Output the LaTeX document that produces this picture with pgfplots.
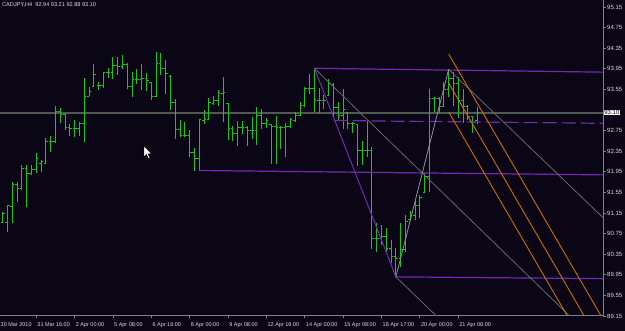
\documentclass[border=0pt]{standalone}
\usepackage{pgfplots}
\pgfplotsset{compat=1.18}
\usepackage{pgfplotstable}
\usepackage{fontspec}
\setmainfont{Liberation Sans}
\definecolor{bg}{RGB}{10,6,22}
\definecolor{barcol}{RGB}{20,200,20}
\definecolor{purp}{RGB}{115,40,175}
\definecolor{orng}{RGB}{205,110,0}
\definecolor{lgray}{RGB}{105,105,105}
\definecolor{zig}{RGB}{145,145,145}
\definecolor{bidc}{RGB}{80,90,80}
\definecolor{axc}{RGB}{128,128,128}
\definecolor{txt}{RGB}{220,220,220}

\pgfplotstableread{
n O H L C
1 90.96 91.16 90.95 91.14
2 90.96 91.31 90.79 91.29
3 91.27 91.75 90.96 91.71
4 91.71 91.76 91.37 91.63
5 91.63 92.08 91.60 92.02
6 92.02 92.08 91.26 91.92
7 91.92 92.08 91.88 91.99
8 91.99 92.31 91.92 92.21
9 92.12 92.17 91.94 92.15
10 92.11 92.60 92.10 92.54
11 92.54 92.65 92.34 92.54
12 92.54 93.22 92.50 93.12
13 93.12 93.18 92.89 93.07
14 93.07 93.07 92.76 92.81
15 92.81 92.87 92.65 92.79
16 92.79 92.96 92.63 92.79
17 92.79 92.92 92.65 92.89
18 92.89 93.78 92.52 93.42
19 93.42 93.60 93.42 93.51
20 93.60 94.04 93.59 93.83
21 93.62 93.70 93.54 93.62
22 93.62 93.89 93.57 93.88
23 93.88 93.96 93.77 93.88
24 93.88 94.17 93.75 94.02
25 94.02 94.17 93.83 93.99
26 93.99 94.21 93.95 94.04
27 94.04 94.07 93.55 93.60
28 93.60 93.88 93.40 93.75
29 93.75 93.94 93.66 93.75
30 93.75 94.04 93.53 93.77
31 93.77 93.86 93.51 93.73
32 93.68 93.70 93.34 93.41
33 93.41 94.27 93.40 94.06
34 94.06 94.25 93.82 93.95
35 93.95 94.12 93.46 93.85
36 93.80 93.82 93.15 93.30
37 93.30 93.36 92.59 92.78
38 92.78 92.96 92.62 92.66
39 92.66 92.92 92.63 92.65
40 92.65 92.76 92.24 92.33
41 92.33 92.41 91.97 92.21
42 92.21 92.98 91.97 92.96
43 92.95 93.15 92.88 92.96
44 92.96 93.38 92.95 93.30
45 93.28 93.43 93.25 93.33
46 93.33 93.54 93.23 93.47
47 93.47 93.80 92.91 93.49
48 93.27 93.28 92.57 92.80
49 92.80 92.83 92.54 92.70
50 92.70 92.94 92.46 92.81
51 92.81 92.94 92.68 92.81
52 92.81 92.84 92.46 92.76
53 92.76 93.02 92.58 92.76
54 92.76 93.20 92.48 93.05
55 93.05 93.16 92.79 92.88
56 92.88 92.99 92.81 92.94
57 92.87 92.88 92.10 92.83
58 92.83 93.03 92.10 92.81
59 92.81 92.84 92.39 92.81
60 92.81 92.90 92.24 92.83
61 92.83 92.99 92.81 92.96
62 92.95 93.12 92.92 93.05
63 93.05 93.31 93.04 93.23
64 93.23 93.59 93.20 93.56
65 93.56 93.84 93.46 93.57
66 93.57 93.96 93.12 93.33
67 93.33 93.58 93.09 93.34
68 93.34 93.44 93.17 93.34
69 93.43 93.75 93.43 93.66
70 93.65 93.67 93.02 93.20
71 93.20 93.30 92.94 93.05
72 93.05 93.56 92.78 93.15
73 93.10 93.12 92.78 92.88
74 92.88 92.91 92.70 92.88
75 92.87 92.88 92.07 92.37
76 92.37 92.55 92.08 92.37
77 92.37 92.94 92.24 92.37
78 92.37 92.44 90.45 90.66
79 90.66 90.95 90.40 90.66
80 90.66 90.92 90.53 90.70
81 90.70 90.85 90.40 90.47
82 90.47 90.63 90.17 90.30
83 90.30 90.47 89.91 90.27
84 90.27 90.95 90.11 90.45
85 90.45 91.11 90.40 90.98
86 91.02 91.18 91.00 91.10
87 91.10 91.40 91.02 91.30
88 91.30 91.50 91.05 91.45
89 91.55 91.92 91.53 91.85
90 91.85 93.55 91.55 93.38
91 93.38 93.41 93.12 93.38
92 93.38 93.41 93.09 93.22
93 93.22 93.70 93.22 93.55
94 93.55 93.94 93.41 93.77
95 93.77 93.88 93.22 93.67
96 93.67 93.80 93.00 93.34
97 93.34 93.55 92.90 93.22
98 93.22 93.25 92.96 93.02
99 93.02 93.02 92.71 92.91
100 92.94 93.21 92.88 93.10
}\bars

\begin{document}
\begin{tikzpicture}
\useasboundingbox (0,-15bp) rectangle (625bp,316bp);
\fill[bg] (0,-15bp) rectangle (625bp,316bp);
\begin{axis}[
  at={(0,0)}, anchor=south west,
  width=603bp, height=316bp, scale only axis,
  xmin=0.437, xmax=126.19, ymin=89.15, ymax=95.286,
  axis x line=bottom, axis y line=right,
  axis line style={-, axc, line width=1bp},
  xtick={8,16,...,96},
  xticklabels={31 Mar 16:00, 2 Apr 00:00, 5 Apr 08:00, 6 Apr 16:00, 8 Apr 00:00, 9 Apr 08:00, 12 Apr 16:00, 14 Apr 00:00, 15 Apr 08:00, 18 Apr 17:00, 20 Apr 00:00, 21 Apr 08:00},
  ytick={89.15,89.55,89.95,90.35,90.75,91.15,91.55,91.95,92.35,92.75,93.55,93.95,94.35,94.75,95.15},
  yticklabels={89.15,89.55,89.95,90.35,90.75,91.15,91.55,91.95,92.35,92.75,93.55,93.95,94.35,94.75,95.15},
  tick align=outside, major tick length=2.5bp,
  tick style={axc, line width=0.8bp},
  ticklabel style={text=txt, inner sep=0pt},
  xticklabel style={font=\fontsize{5.5bp}{6bp}\selectfont, anchor=north west, xshift=1bp, yshift=-4bp},
  yticklabel style={font=\fontsize{6bp}{7bp}\selectfont, anchor=west, xshift=1.5bp},
  clip=true,
  every axis plot/.append style={line cap=butt},
]
% bid line
\addplot[bidc, line width=2bp] coordinates {(0.437,93.10) (126.19,93.10)};
% bars: high-low
\addplot[draw=none, mark=none, error bars/.cd, y dir=plus, y explicit, error mark=none,
  error bar style={draw=barcol, solid, line width=1bp}]
  table[x=n, y=L, y error expr=\thisrow{H}-\thisrow{L}] {\bars};
% open ticks
\addplot[draw=none, mark=none, error bars/.cd, x dir=minus, x fixed=0.42, error mark=none,
  error bar style={draw=barcol, solid, line width=1bp}]
  table[x=n, y=O] {\bars};
% close ticks
\addplot[draw=none, mark=none, error bars/.cd, x dir=plus, x fixed=0.42, error mark=none,
  error bar style={draw=barcol, solid, line width=1bp}]
  table[x=n, y=C] {\bars};
% purple levels
\addplot[purp, line width=1.2bp] coordinates {(66,93.96) (126.19,93.885)};
\addplot[purp, line width=1.2bp] coordinates {(42,91.975) (126.19,91.89)};
\addplot[purp, line width=1.2bp] coordinates {(83,89.91) (126.19,89.875)};
\addplot[purp, line width=1.2bp, dash pattern=on 14bp off 5bp] coordinates {(70,92.946) (126.19,92.892)};
\addplot[purp, line width=1bp] coordinates {(66,93.96) (83,89.91)};
% gray parallel lines
\addplot[lgray, line width=0.8bp] coordinates {(66,93.96) (122,88.90)};
\addplot[lgray, line width=0.8bp] coordinates {(94,93.94) (126.19,91.06)};
\addplot[lgray, line width=0.8bp] coordinates {(83,89.91) (93,89.01)};
\addplot[zig, line width=0.8bp] coordinates {(83,89.91) (94,93.94)};
% orange lines
\addplot[orng, line width=0.9bp] coordinates {(94,94.237) (128,88.797)};
\addplot[orng, line width=0.9bp] coordinates {(94,93.674) (128,88.234)};
\addplot[orng, line width=0.9bp] coordinates {(94,93.111) (128,87.671)};
\coordinate (bidpt) at (axis cs:126.19,93.10);
\coordinate (firstlab) at (axis cs:0,89.15);
\end{axis}
% price box
\node[fill=white, text=black, anchor=west, inner sep=0.7bp, font=\fontsize{6bp}{7bp}\selectfont] at ([xshift=0.5bp]bidpt) {93.10};
% first date label
\node[anchor=north west, inner sep=0pt, text=txt, font=\fontsize{5.5bp}{6bp}\selectfont] at ([xshift=2.6bp, yshift=-6.5bp]firstlab) {30 Mar 2010};
% title
\node[anchor=west, inner sep=0pt, text=txt, font=\fontsize{5.6bp}{6.5bp}\selectfont] at (2bp,311bp) {CADJPY,H4\ \ 92.94 93.21 92.88 93.10};
% mouse cursor
\filldraw[fill=white, draw=black, line width=0.4bp] (144bp,170bp) -- ++(0,-11bp) -- ++(2.5bp,2.5bp) -- ++(2bp,-4bp) -- ++(1.5bp,0.6bp) -- ++(-2bp,4bp) -- ++(3.5bp,0) -- cycle;
\end{tikzpicture}
\end{document}
